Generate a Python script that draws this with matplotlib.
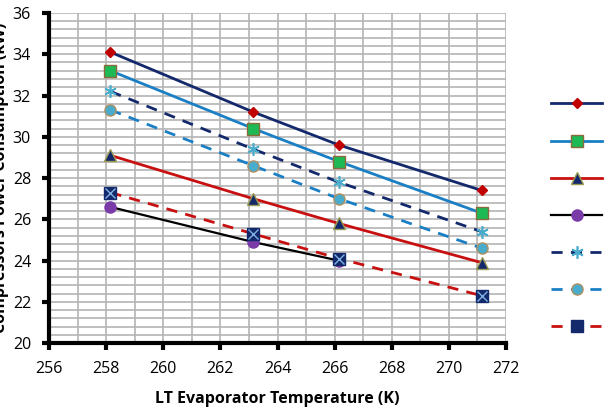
import matplotlib.pyplot as plt
from matplotlib.ticker import MultipleLocator

temps = [258.15, 263.15, 266.15, 271.15]
s1 = [34.1, 31.2, 29.6, 27.4]
s2 = [33.2, 30.4, 28.8, 26.3]
s3 = [29.1, 27.0, 25.8, 23.9]
s4 = [26.6, 24.9, 24.0]
s5 = [32.2, 29.4, 27.8, 25.4]
s6 = [31.3, 28.6, 27.0, 24.6]
s7 = [27.3, 25.3, 24.1, 22.3]
labels = ['Case 1', 'Case 2', 'Case 3', 'Case 4', 'Case 5', 'Case 6', 'Case 7']

navy = '#13296b'
blue = '#1a7fc4'
red = '#c81010'
plt.rcParams['font.family'] = ['Open Sans', 'DejaVu Sans']

fig = plt.figure(figsize=(6.06, 4.18), dpi=100)
ax = fig.add_axes([0.081, 0.179, 0.754, 0.79])

ax.plot(temps, s1, color=navy, lw=2, marker='D', ms=5, mfc='#c00000', mec='#c00000', label=labels[0])
ax.plot(temps, s2, color=blue, lw=2, marker='s', ms=8, mfc='#1db954', mec='#8a6a3a', label=labels[1])
ax.plot(temps, s3, color=red, lw=2, marker='^', ms=8, mfc=navy, mec='#9a9a50', label=labels[2])
ax.plot(temps[:3], s4, color='black', lw=1.6, marker='o', ms=8, mfc='#7a3aa8', mec='#7a3aa8', label=labels[3])
ax.plot(temps, s5, color=navy, lw=2, ls=(0, (4, 3)), marker=(6, 2, 0), ms=9, mec='#4aaccc', mew=1.2, label=labels[4])
ax.plot(temps, s6, color=blue, lw=2, ls=(0, (4, 3)), marker='o', ms=8, mfc='#4aaccc', mec='#b09060', label=labels[5])
ax.plot(temps, s7, color=red, lw=2, ls=(0, (4, 3)))
ax.plot(temps, s7, ls='none', marker='s', ms=9, mfc=navy, mec=navy)
ax.plot(temps, s7, ls='none', marker='x', ms=7, mec='#7fb0e0', mew=1)
ax.plot([], [], color=red, lw=2, ls=(0, (4, 3)), marker='s', ms=9, mfc=navy, mec=navy, label=labels[6])

ax.set_xlim(256, 272)
ax.set_ylim(20, 36)
ax.xaxis.set_major_locator(MultipleLocator(2))
ax.xaxis.set_minor_locator(MultipleLocator(1))
ax.yaxis.set_major_locator(MultipleLocator(2))
ax.yaxis.set_minor_locator(MultipleLocator(0.4))
ax.grid(which='both', color='#b4b4b4', lw=1.2)
ax.set_axisbelow(True)
for s in ['top', 'right']:
    ax.spines[s].set_visible(False)
for s in ['left', 'bottom']:
    ax.spines[s].set_linewidth(3)
ax.tick_params(which='major', length=5, width=3, direction='out', labelsize=11.5, pad=8)
ax.tick_params(which='minor', length=0)

ax.set_xlabel('LT Evaporator Temperature (K)', fontsize=11.5, fontweight='bold', labelpad=10)
ax.set_ylabel('Compressors Power Consumption (kW)', fontsize=11.5, fontweight='bold')
ax.yaxis.set_label_coords(-0.087, 0.5)

handles, labs = ax.get_legend_handles_labels()
fig.legend(handles, labs, loc='upper left', bbox_to_anchor=(0.91, 0.766),
           frameon=False, fontsize=11, handlelength=3.3, labelspacing=1.45,
           handletextpad=0.4, borderpad=0, borderaxespad=0)

fig.savefig('out.png', dpi=100)
